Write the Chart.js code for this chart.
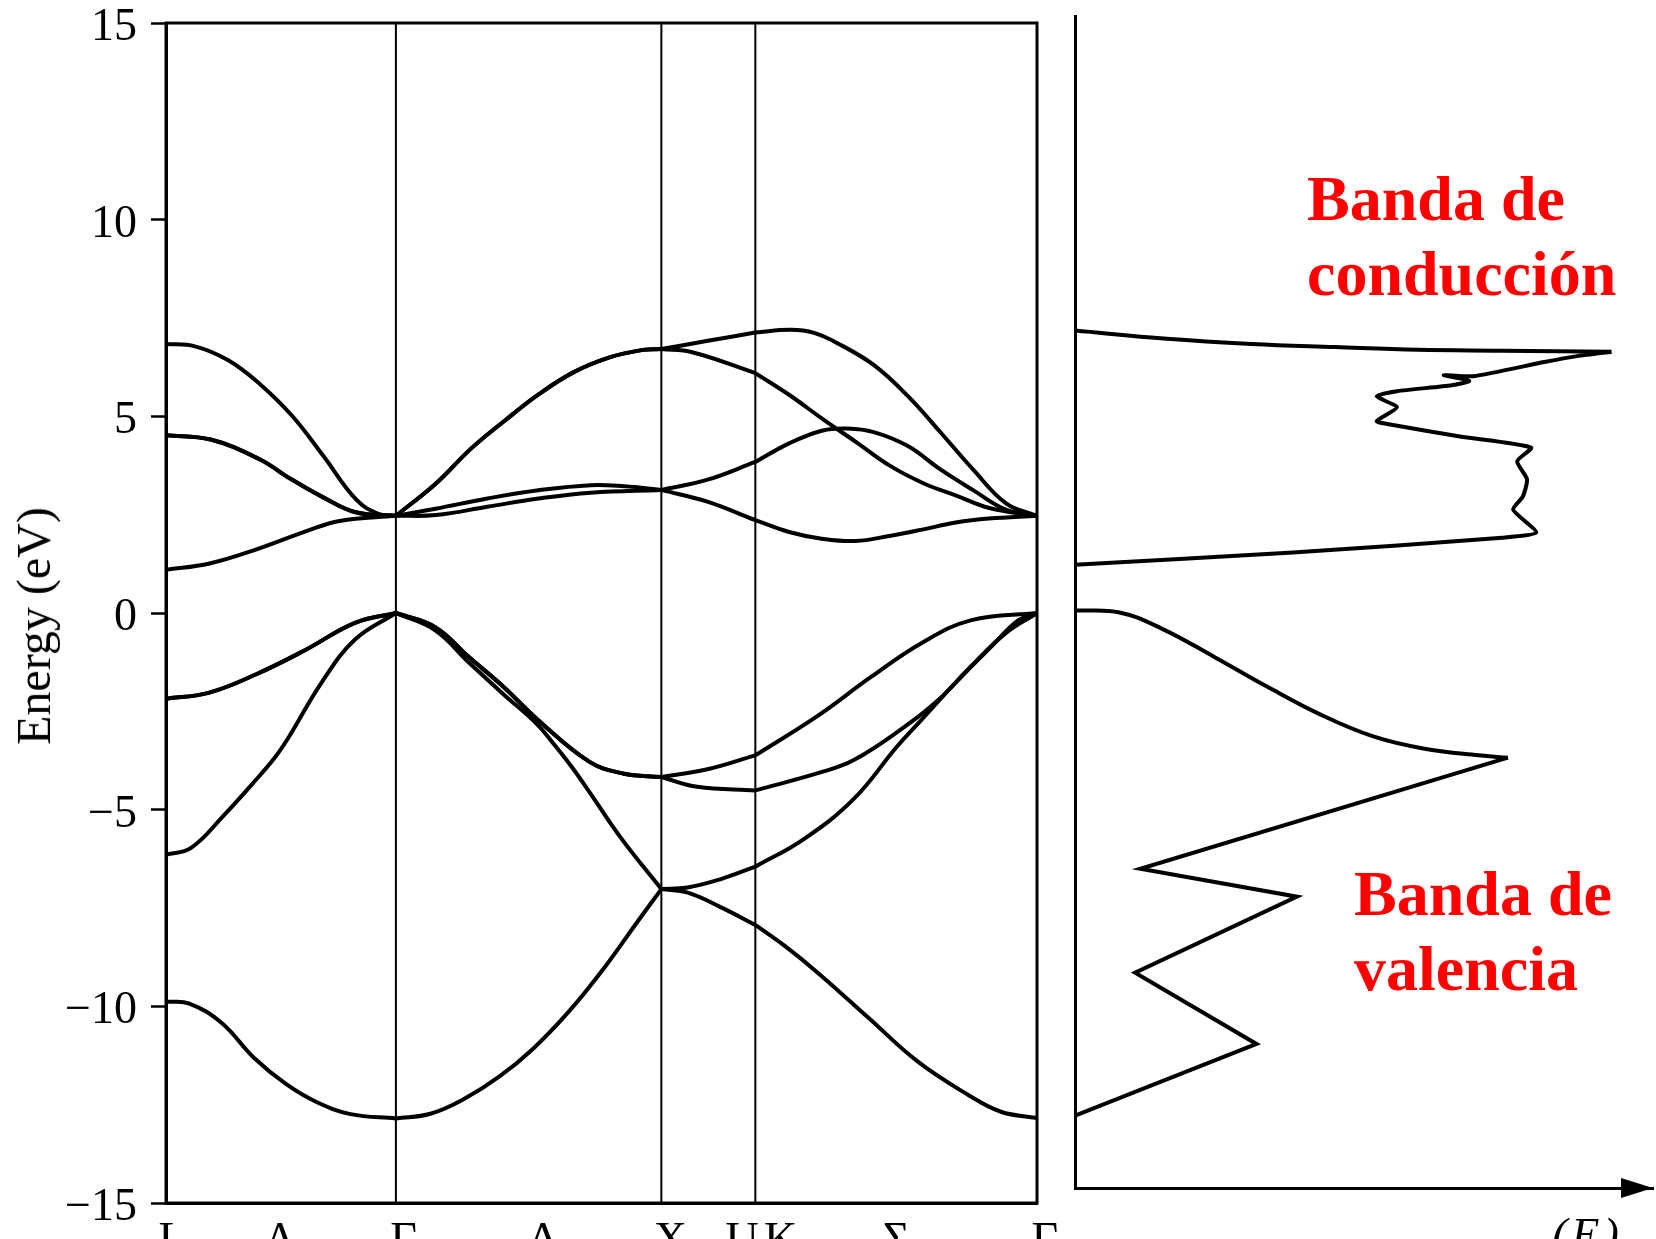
<!DOCTYPE html>
<html>
<head>
<meta charset="utf-8">
<script src="https://cdn.jsdelivr.net/npm/chart.js@4/dist/chart.umd.min.js"></script>
<style>
  html, body { margin: 0; padding: 0; background: #fff; width: 1656px; height: 1239px; overflow: hidden; position: relative; }
  canvas { position: absolute; left: 0; }
  #bands { top: -60px; }
  #dos { top: 0; }
  .serif { position: absolute; font-family: "Liberation Serif", "Times New Roman", serif; white-space: nowrap; }
  .band-name { color: #ff0000; font-weight: bold; font-size: 64px; }
</style>
</head>
<body>
<canvas id="bands" width="1656" height="1339"></canvas>
<canvas id="dos" width="1656" height="1239"></canvas>

<div class="serif" style="left:34px; top:626px; font-size:48px; line-height:1; transform:translate(-50%,-50%) rotate(-90deg);">Energy (eV)</div>
<div class="serif band-name" style="left:1307px; top:161px; line-height:75px;">Banda de<br>conducción</div>
<div class="serif band-name" style="left:1354px; top:856px; line-height:75px;">Banda de<br>valencia</div>
<div class="serif" style="left:1552px; top:1212px; font-size:46px; font-style:italic; line-height:1;">(<span style="padding:0 4px">E</span>)</div>

<script>
// High-symmetry points along the path L → Γ → X → U,K → Γ (k in units of 2π/a)
const kPoints = [0, 0.866, 1.866, 2.220, 3.281];
// Positions and names of the path labels under the axis
const kLabelPos = [0.025, 0.43, 0.895, 1.42, 1.90, 2.17, 2.315, 2.75, 3.31];
const kLabels = ['L', 'Λ', 'Γ', 'Δ', 'X', 'U', 'K', 'Σ', 'Γ'];
// Energy axis (eV)
const energyRange = [-15, 15];
const energyTicks = [-15, -10, -5, 0, 5, 10, 15];

// Valence bands: [k, E]
const valence1 = [[0,-9.88],[0.088,-9.93],[0.211,-10.43],[0.330,-11.30],[0.453,-11.98],[0.569,-12.44],[0.695,-12.74],[0.866,-12.85],
  [0.996,-12.73],[1.124,-12.35],[1.255,-11.79],[1.384,-11.07],[1.518,-10.13],[1.649,-9.04],[1.778,-7.83],[1.866,-7.02],
  [1.965,-7.11],[2.087,-7.47],[2.220,-7.93],
  [2.332,-8.47],[2.456,-9.15],[2.646,-10.29],[2.831,-11.40],[3.019,-12.24],[3.145,-12.68],[3.281,-12.84]];
const valence2 = [[0,-6.14],[0.093,-5.98],[0.217,-5.15],[0.339,-4.24],[0.413,-3.65],[0.464,-3.14],[0.586,-1.77],[0.711,-0.68],[0.866,0],
  [1.014,-0.44],[1.141,-1.26],[1.272,-2.07],[1.398,-2.83],[1.463,-3.35],[1.528,-3.91],[1.594,-4.54],[1.715,-5.73],[1.866,-7.02],
  [1.965,-6.98],[2.088,-6.77],[2.220,-6.45],
  [2.400,-5.76],[2.589,-4.74],[2.753,-3.40],[2.844,-2.73],[2.972,-1.79],[3.110,-0.85],[3.210,-0.19],[3.281,0]];
const valence3 = [[0,-2.18],[0.160,-2.03],[0.342,-1.55],[0.525,-0.94],[0.712,-0.25],[0.866,0],
  [1.014,-0.36],[1.141,-1.12],[1.272,-1.88],[1.398,-2.70],[1.594,-3.78],[1.721,-4.08],[1.866,-4.17],
  [2.001,-4.42],[2.220,-4.51],
  [2.462,-4.06],[2.591,-3.74],[2.783,-2.89],[2.908,-2.22],[3.032,-1.36],[3.160,-0.53],[3.281,0]];
const valence4 = [[0,-2.18],[0.160,-2.03],[0.342,-1.55],[0.525,-0.94],[0.712,-0.25],[0.866,0],
  [1.014,-0.36],[1.141,-1.12],[1.272,-1.88],[1.398,-2.70],[1.594,-3.78],[1.721,-4.08],[1.866,-4.17],
  [2.035,-3.98],[2.220,-3.62],
  [2.452,-2.63],[2.657,-1.62],[2.847,-0.76],[3.034,-0.18],[3.281,0]];

// Conduction bands: [k, E]
const conduction1 = [[0,1.10],[0.164,1.26],[0.346,1.63],[0.529,2.08],[0.654,2.34],[0.866,2.47],
  [1.017,2.49],[1.210,2.70],[1.403,2.91],[1.600,3.06],[1.866,3.13],
  [2.039,2.83],[2.220,2.36],
  [2.347,2.06],[2.470,1.89],[2.597,1.83],[2.725,1.96],[2.848,2.12],[2.975,2.30],[3.099,2.40],[3.281,2.47]];
const conduction2 = [[0,4.52],[0.168,4.41],[0.349,3.92],[0.472,3.40],[0.592,2.94],[0.714,2.56],[0.866,2.47],
  [1.015,2.65],[1.210,2.91],[1.403,3.12],[1.600,3.25],[1.727,3.22],[1.866,3.13],
  [2.040,3.39],[2.220,3.84],
  [2.349,4.32],[2.474,4.64],[2.566,4.69],[2.666,4.60],[2.793,4.25],[2.917,3.65],[3.039,3.13],[3.166,2.62],[3.281,2.47]];
const conduction3 = [[0,4.52],[0.168,4.41],[0.349,3.92],[0.472,3.40],[0.592,2.94],[0.714,2.56],[0.866,2.47],
  [1.018,3.30],[1.146,4.16],[1.278,4.90],[1.406,5.57],[1.538,6.13],[1.671,6.50],[1.797,6.69],[1.866,6.71],
  [1.982,6.63],[2.220,6.10],
  [2.351,5.53],[2.474,4.93],[2.601,4.34],[2.728,3.74],[2.853,3.30],[2.979,2.98],[3.101,2.67],[3.281,2.47]];
const conduction4 = [[0,6.84],[0.109,6.78],[0.233,6.43],[0.352,5.83],[0.474,5.02],[0.593,3.99],[0.717,2.88],[0.800,2.52],[0.866,2.47],
  [1.018,3.30],[1.146,4.16],[1.278,4.90],[1.406,5.57],[1.538,6.13],[1.671,6.50],[1.797,6.69],[1.866,6.71],
  [2.041,6.92],[2.220,7.13],
  [2.353,7.20],[2.441,7.12],[2.540,6.82],[2.667,6.30],[2.794,5.52],[2.918,4.59],[3.040,3.65],[3.166,2.78],[3.281,2.47]];

const bandList = [valence1, valence2, valence3, valence4, conduction1, conduction2, conduction3, conduction4];

// Density of states: [g (arb. units), E]
const dosConductionRise = [[0,7.16],[15.9,6.95],[30.5,6.82],[45.0,6.74],[59.3,6.67],[73.9,6.65],[92.8,6.62]];
const dosConductionFall = [[92.8,6.62],[86.9,6.51],[81.2,6.36],[68.9,6.00],[63.8,6.03],[68.2,5.88],[65.2,5.77],[55.7,5.62],
  [52.2,5.49],[55.7,5.21],[52.2,4.86],[54.3,4.78],[66.6,4.47],[78.9,4.19],[76.5,3.84],[78.2,3.38],[77.5,2.95],[75.8,2.61],
  [79.8,2.03],[73.9,1.90],[37.7,1.52],[0,1.21]];
const dosValenceRise = [[0,0.05],[7.7,0.0],[15.0,-0.41],[24.1,-1.13],[33.3,-1.89],[42.4,-2.59],[51.6,-3.15],[60.7,-3.47],
  [69.8,-3.63],[74.9,-3.69]];
const dosValenceFall = [[74.9,-3.69],[11.3,-6.51],[38.4,-7.22],[10.4,-9.15],[31.4,-10.96],[0,-12.78]];
const dosRange = [0, 100];
const dosEnergyRange = [-14.62, 15.15];

const INK = '#000';
const serif = '"Liberation Serif", "Times New Roman", serif';

// Split a band at the high-symmetry points so each path section is smoothed on its own
function pathSegments(band) {
  const segs = [];
  let cur = [];
  band.forEach(([k, e], i) => {
    cur.push({ x: k, y: e });
    const atCorner = kPoints.some(p => Math.abs(p - k) < 1e-6);
    if (atCorner && i > 0 && i < band.length - 1) {
      segs.push(cur);
      cur = [{ x: k, y: e }];
    }
  });
  segs.push(cur);
  return segs;
}

const bandDatasets = [];
bandList.forEach(band => {
  pathSegments(band).forEach(seg => bandDatasets.push({
    data: seg, borderColor: INK, borderWidth: 4, pointRadius: 0, tension: 0.4, fill: false
  }));
});
// Vertical guides at the inner high-symmetry points
kPoints.slice(1, -1).forEach(k => bandDatasets.push({
  data: [{ x: k, y: energyRange[0] }, { x: k, y: energyRange[1] }],
  borderColor: INK, borderWidth: 2, pointRadius: 0, tension: 0, fill: false
}));

// Closed frame around the band panel
const framePlugin = {
  id: 'frame',
  afterDatasetsDraw(chart) {
    const { ctx, chartArea: a } = chart;
    ctx.save();
    ctx.strokeStyle = INK;
    ctx.lineWidth = 3;
    ctx.strokeRect(a.left, a.top, a.right - a.left, a.bottom - a.top);
    ctx.restore();
  }
};

// Arrowhead at the end of the DOS axis
const arrowPlugin = {
  id: 'arrow',
  afterDraw(chart) {
    const { ctx, chartArea: a } = chart;
    ctx.save();
    ctx.fillStyle = INK;
    ctx.beginPath();
    ctx.moveTo(a.right, a.bottom);
    ctx.lineTo(a.right - 32, a.bottom - 10);
    ctx.lineTo(a.right - 32, a.bottom + 10);
    ctx.closePath();
    ctx.fill();
    ctx.restore();
  }
};

new Chart(document.getElementById('bands'), {
  type: 'line',
  data: { datasets: bandDatasets },
  plugins: [framePlugin],
  options: {
    responsive: false, animation: false, events: [],
    layout: { autoPadding: false, padding: { left: 0, top: 83, right: 619, bottom: 0 } },
    plugins: { legend: { display: false }, tooltip: { enabled: false } },
    scales: {
      x: {
        type: 'linear', min: kPoints[0], max: kPoints[kPoints.length - 1],
        afterFit(s) { s.height = 76; },
        afterBuildTicks(s) { s.ticks = kLabelPos.map(v => ({ value: v })); },
        grid: { display: false },
        border: { display: true, color: INK, width: 3 },
        ticks: {
          autoSkip: false, maxRotation: 0, padding: 3, color: INK,
          font: { family: serif, size: 46 },
          callback: (v, i) => kLabels[i]
        }
      },
      y: {
        type: 'linear', min: energyRange[0], max: energyRange[1],
        afterFit(s) { s.width = 166; },
        afterBuildTicks(s) { s.ticks = energyTicks.map(v => ({ value: v })); },
        grid: { drawOnChartArea: false, drawTicks: true, tickLength: 15, tickWidth: 2.5, tickColor: INK },
        border: { display: true, color: INK, width: 3 },
        ticks: {
          padding: 14, color: INK, labelOffset: 5,
          font: { family: serif, size: 46 },
          callback: v => (v < 0 ? '\u2212' + Math.abs(v) : String(v))
        }
      }
    }
  }
});

const dosCurves = [
  { pts: dosConductionRise, tension: 0.4 },
  { pts: dosConductionFall, tension: 0.2 },
  { pts: dosValenceRise, tension: 0.4 },
  { pts: dosValenceFall, tension: 0 }
];

new Chart(document.getElementById('dos'), {
  type: 'line',
  data: {
    datasets: dosCurves.map(c => ({
      data: c.pts.map(([g, e]) => ({ x: g, y: e })),
      borderColor: INK, borderWidth: 4, pointRadius: 0, tension: c.tension, fill: false
    }))
  },
  plugins: [arrowPlugin],
  options: {
    responsive: false, animation: false, events: [],
    layout: { autoPadding: false, padding: { left: 1075, top: 16, right: 3, bottom: 0 } },
    plugins: { legend: { display: false }, tooltip: { enabled: false } },
    scales: {
      x: {
        type: 'linear', min: dosRange[0], max: dosRange[1],
        afterFit(s) { s.height = 51; },
        grid: { display: false },
        border: { display: true, color: INK, width: 3 },
        ticks: { display: false }
      },
      y: {
        type: 'linear', min: dosEnergyRange[0], max: dosEnergyRange[1],
        afterFit(s) { s.width = 0; },
        grid: { display: false },
        border: { display: true, color: INK, width: 3 },
        ticks: { display: false }
      }
    }
  }
});
</script>
</body>
</html>
